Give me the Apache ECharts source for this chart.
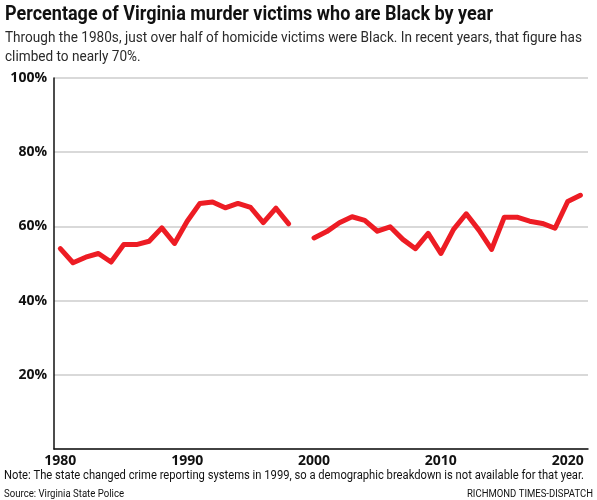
<!DOCTYPE html>
<html><head><meta charset="utf-8">
<script src="https://cdn.jsdelivr.net/npm/echarts@6/dist/echarts.min.js"></script>
<style>html,body{margin:0;padding:0;background:#fff}#c{width:597px;height:500px}</style>
</head><body><div id="c"></div>
<script>
const years = [1980,1981,1982,1983,1984,1985,1986,1987,1988,1989,1990,1991,1992,1993,1994,1995,1996,1997,1998,1999,2000,2001,2002,2003,2004,2005,2006,2007,2008,2009,2010,2011,2012,2013,2014,2015,2016,2017,2018,2019,2020,2021];
const pctBlack = [54.0,50.2,51.7,52.7,50.4,55.1,55.1,56.0,59.6,55.4,61.4,66.2,66.6,65.0,66.2,65.1,61.0,64.9,60.7,null,56.9,58.6,61.0,62.6,61.6,58.7,59.9,56.5,54.0,58.1,52.7,59.2,63.4,59.0,53.8,62.5,62.5,61.4,60.8,59.5,66.7,68.4];
const xTicks = [1980,1990,2000,2010,2020];
const yTicks = [20,40,60,80,100];
const titleText = 'Percentage of Virginia murder victims who are Black by year';
const subLine1 = 'Through the 1980s, just over half of homicide victims were Black. In recent years, that figure has';
const subLine2 = 'climbed to nearly 70%.';
const noteText = 'Note: The state changed crime reporting systems in 1999, so a demographic breakdown is not available for that year.';
const sourceText = 'Source: Virginia State Police';
const creditText = 'RICHMOND TIMES-DISPATCH';

const fam = 'Roboto, sans-serif';
const ctx = document.createElement('canvas').getContext('2d');
function fit(text, font, target){ ctx.font = font; return target / ctx.measureText(text).width; }
const fTitle = 'bold 20.5px ' + fam;
const fSub = '15.5px ' + fam;
const fNote = '12px ' + fam;
const fSmall = '10px ' + fam;
const sTitle = fit(titleText, fTitle, 488);
const sSub = fit(subLine1, fSub, 577);
const sNote = fit(noteText, fNote, 580);
const sSrc = fit(sourceText, fSmall, 120);
const sCred = fit(creditText, fSmall, 126);

const chart = echarts.init(document.getElementById('c'));
chart.setOption({
  animation:false,
  grid:{left:54,right:9,top:78,bottom:51},
  xAxis:{type:'value',min:1979.5,max:2021.6,
    axisLine:{show:true,lineStyle:{color:'#111',width:1.5}},
    axisTick:{show:false},
    splitLine:{show:false},
    axisLabel:{customValues:xTicks,margin:5,color:'#111',fontWeight:'bold',fontSize:14,fontFamily:'"Open Sans",sans-serif',formatter:v=>String(v)}
  },
  yAxis:{type:'value',min:0,max:100,interval:20,
    axisLine:{show:true,lineStyle:{color:'#111',width:1.5}},
    axisTick:{show:false},
    splitLine:{show:true,lineStyle:{color:'#cccccc',width:1.5}},
    axisLabel:{margin:7,color:'#111',fontWeight:'bold',fontSize:14,fontFamily:'"Open Sans",sans-serif',formatter:v=>v+'%',customValues:yTicks}
  },
  series:[{type:'line',data:years.map((y,i)=>[y,pctBlack[i]]),connectNulls:false,
    showSymbol:false,symbol:'none',lineStyle:{color:'#ed1c24',width:5,join:'round',cap:'round'}}],
  graphic:[
    {type:'text',x:5,y:15,scaleX:sTitle,style:{text:titleText,font:fTitle,fill:'#111',verticalAlign:'middle'}},
    {type:'text',x:5,y:38,scaleX:sSub,style:{text:subLine1,font:fSub,fill:'#2a2a2a',verticalAlign:'middle'}},
    {type:'text',x:5,y:57,scaleX:sSub,style:{text:subLine2,font:fSub,fill:'#2a2a2a',verticalAlign:'middle'}},
    {type:'text',x:4,y:476,scaleX:sNote,style:{text:noteText,font:fNote,fill:'#111',verticalAlign:'middle'}},
    {type:'text',x:4,y:494,scaleX:sSrc,style:{text:sourceText,font:fSmall,fill:'#111',verticalAlign:'middle'}},
    {type:'text',x:593,y:494,scaleX:sCred,style:{text:creditText,font:fSmall,fill:'#111',align:'right',verticalAlign:'middle'}}
  ]
});
</script></body></html>
